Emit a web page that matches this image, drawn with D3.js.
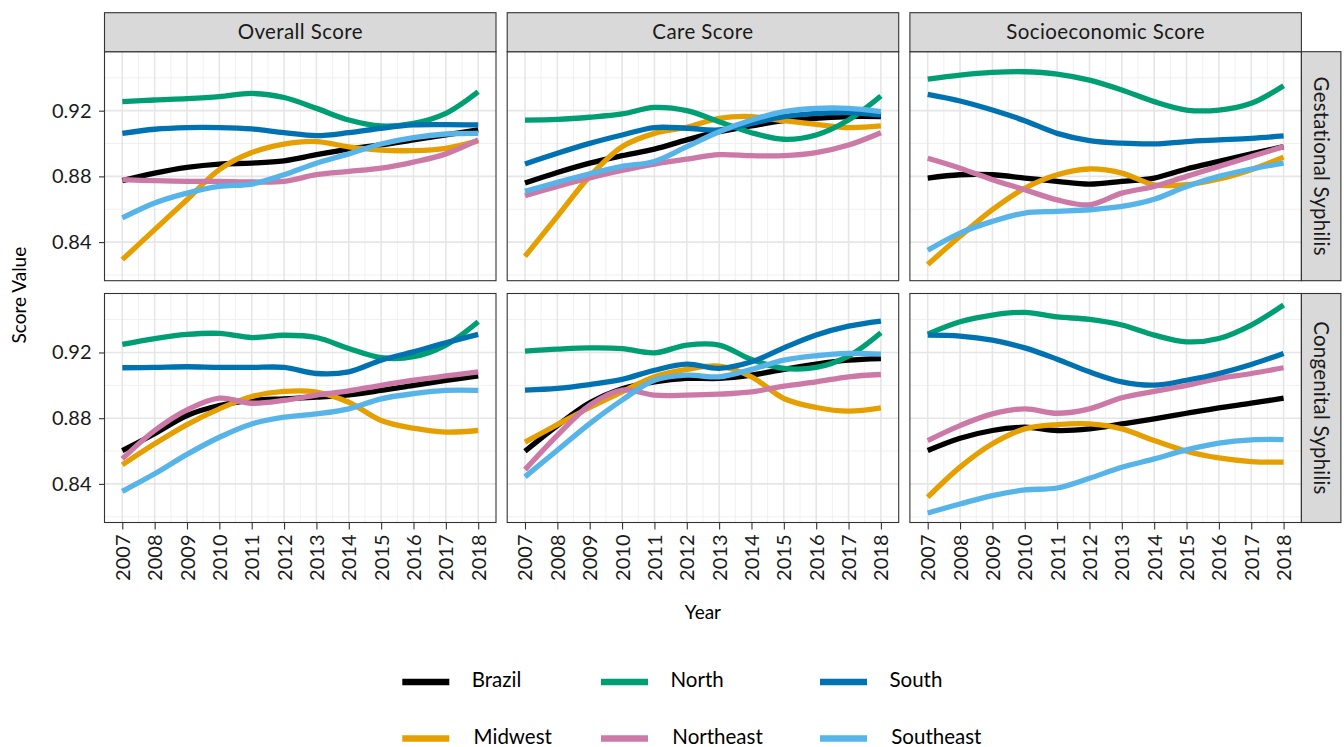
<!DOCTYPE html>
<html>
<head>
<meta charset="utf-8">
<script src="https://cdn.jsdelivr.net/npm/d3@7"></script>
<style>
  html, body { margin: 0; padding: 0; background: #ffffff; }
  svg { display: block; }
</style>
</head>
<body>
<div id="chart"></div>
<script>
// Years on the x axis
const years = [2007, 2008, 2009, 2010, 2011, 2012, 2013, 2014, 2015, 2016, 2017, 2018];

// Regions (drawing order) and their colours
const regions = ["Brazil", "Midwest", "North", "Northeast", "South", "Southeast"];
const regionColors = ["#000000", "#E69F00", "#009E73", "#CC79A7", "#0072B2", "#56B4E9"];

// Facet labels
const scoreTypes = ["Overall Score", "Care Score", "Socioeconomic Score"];
const outcomes = ["Gestational Syphilis", "Congenital Syphilis"];

// y ticks
const yTicks = [0.84, 0.88, 0.92];
const yMinorTicks = [0.82, 0.86, 0.90, 0.94];

// Scores per region (rows follow `regions`)
const gestationalOverall = [
  [0.8774, 0.8820, 0.8855, 0.8875, 0.8881, 0.8895, 0.8932, 0.8966, 0.8992, 0.9022, 0.9052, 0.9083],
  [0.8293, 0.8476, 0.8658, 0.8841, 0.8945, 0.8997, 0.9012, 0.8980, 0.8960, 0.8957, 0.8971, 0.9016],
  [0.9255, 0.9265, 0.9273, 0.9285, 0.9305, 0.9280, 0.9214, 0.9143, 0.9107, 0.9123, 0.9184, 0.9315],
  [0.8780, 0.8774, 0.8770, 0.8770, 0.8766, 0.8770, 0.8810, 0.8830, 0.8850, 0.8887, 0.8937, 0.9022],
  [0.9062, 0.9087, 0.9097, 0.9097, 0.9089, 0.9066, 0.9048, 0.9066, 0.9093, 0.9113, 0.9115, 0.9113],
  [0.8547, 0.8638, 0.8698, 0.8739, 0.8753, 0.8810, 0.8880, 0.8937, 0.8997, 0.9036, 0.9058, 0.9062]
];
const gestationalCare = [
  [0.8760, 0.8824, 0.8881, 0.8926, 0.8966, 0.9022, 0.9072, 0.9107, 0.9139, 0.9153, 0.9164, 0.9164],
  [0.8313, 0.8557, 0.8800, 0.8981, 0.9062, 0.9099, 0.9153, 0.9164, 0.9139, 0.9117, 0.9097, 0.9107],
  [0.9143, 0.9147, 0.9160, 0.9180, 0.9220, 0.9200, 0.9133, 0.9066, 0.9026, 0.9052, 0.9143, 0.9289],
  [0.8683, 0.8739, 0.8790, 0.8836, 0.8875, 0.8905, 0.8932, 0.8926, 0.8926, 0.8945, 0.8991, 0.9066],
  [0.8876, 0.8941, 0.9001, 0.9052, 0.9097, 0.9093, 0.9083, 0.9123, 0.9164, 0.9184, 0.9188, 0.9174],
  [0.8709, 0.8764, 0.8816, 0.8861, 0.8891, 0.8981, 0.9072, 0.9143, 0.9194, 0.9214, 0.9214, 0.9194]
];
const gestationalSocio = [
  [0.8790, 0.8810, 0.8810, 0.8790, 0.8770, 0.8753, 0.8770, 0.8790, 0.8845, 0.8891, 0.8937, 0.8981],
  [0.8263, 0.8435, 0.8597, 0.8728, 0.8810, 0.8845, 0.8820, 0.8749, 0.8749, 0.8784, 0.8841, 0.8917],
  [0.9392, 0.9417, 0.9433, 0.9437, 0.9423, 0.9386, 0.9326, 0.9255, 0.9204, 0.9204, 0.9245, 0.9352],
  [0.8910, 0.8850, 0.8780, 0.8719, 0.8657, 0.8627, 0.8698, 0.8739, 0.8800, 0.8861, 0.8921, 0.8981],
  [0.9299, 0.9259, 0.9204, 0.9139, 0.9062, 0.9018, 0.9002, 0.8998, 0.9012, 0.9022, 0.9032, 0.9046],
  [0.8350, 0.8455, 0.8526, 0.8577, 0.8587, 0.8597, 0.8617, 0.8661, 0.8739, 0.8800, 0.8845, 0.8881]
];
const congenitalOverall = [
  [0.8603, 0.8705, 0.8816, 0.8877, 0.8908, 0.8918, 0.8928, 0.8942, 0.8969, 0.9000, 0.9030, 0.9057],
  [0.8516, 0.8644, 0.8761, 0.8857, 0.8932, 0.8963, 0.8959, 0.8897, 0.8786, 0.8739, 0.8715, 0.8725],
  [0.9249, 0.9285, 0.9310, 0.9316, 0.9291, 0.9305, 0.9291, 0.9224, 0.9168, 0.9174, 0.9245, 0.9387],
  [0.8552, 0.8725, 0.8851, 0.8922, 0.8891, 0.8908, 0.8940, 0.8966, 0.9000, 0.9031, 0.9057, 0.9082],
  [0.9107, 0.9109, 0.9113, 0.9109, 0.9109, 0.9109, 0.9072, 0.9082, 0.9153, 0.9204, 0.9259, 0.9310],
  [0.8355, 0.8462, 0.8580, 0.8684, 0.8765, 0.8806, 0.8826, 0.8857, 0.8918, 0.8949, 0.8969, 0.8969]
];
const congenitalCare = [
  [0.8599, 0.8755, 0.8893, 0.8979, 0.9021, 0.9042, 0.9042, 0.9062, 0.9097, 0.9129, 0.9153, 0.9163],
  [0.8654, 0.8761, 0.8865, 0.8960, 0.9052, 0.9097, 0.9117, 0.9052, 0.8920, 0.8865, 0.8843, 0.8863],
  [0.9208, 0.9220, 0.9228, 0.9224, 0.9198, 0.9245, 0.9245, 0.9157, 0.9103, 0.9109, 0.9178, 0.9320],
  [0.8487, 0.8696, 0.8879, 0.8971, 0.8940, 0.8940, 0.8946, 0.8960, 0.8995, 0.9021, 0.9052, 0.9066],
  [0.8971, 0.8981, 0.9005, 0.9036, 0.9092, 0.9129, 0.9103, 0.9143, 0.9228, 0.9306, 0.9360, 0.9391],
  [0.8443, 0.8605, 0.8767, 0.8910, 0.9031, 0.9062, 0.9052, 0.9097, 0.9153, 0.9180, 0.9194, 0.9190]
];
const congenitalSocio = [
  [0.8603, 0.8678, 0.8725, 0.8745, 0.8725, 0.8735, 0.8765, 0.8796, 0.8830, 0.8863, 0.8891, 0.8922],
  [0.8319, 0.8502, 0.8644, 0.8735, 0.8761, 0.8765, 0.8735, 0.8664, 0.8599, 0.8558, 0.8536, 0.8532],
  [0.9312, 0.9387, 0.9428, 0.9444, 0.9417, 0.9401, 0.9367, 0.9306, 0.9265, 0.9285, 0.9367, 0.9489],
  [0.8664, 0.8755, 0.8826, 0.8857, 0.8830, 0.8857, 0.8924, 0.8963, 0.8999, 0.9042, 0.9072, 0.9107],
  [0.9306, 0.9300, 0.9275, 0.9228, 0.9159, 0.9082, 0.9021, 0.9001, 0.9031, 0.9072, 0.9127, 0.9194],
  [0.8223, 0.8278, 0.8329, 0.8363, 0.8375, 0.8434, 0.8501, 0.8552, 0.8607, 0.8648, 0.8668, 0.8670]
];

const panelData = [
  [gestationalOverall, gestationalCare, gestationalSocio],
  [congenitalOverall, congenitalCare, congenitalSocio]
];

// ---- layout ----
const W = 1344, H = 747;
const panelLeft = 104.5, panelW = 391.5, panelGap = 11.2;
const stripTop = 12.7, stripH = 39;
const rowTops = [51.7, 293.5], panelH = 229;
const rightStripW = 39.5;

const textFont = "Lato, 'Open Sans', sans-serif";

const svg = d3.select("#chart").append("svg")
  .attr("width", W).attr("height", H);

const x = d3.scaleLinear().domain([2007 - 0.55, 2018 + 0.55]).range([0, panelW]);
const y = d3.scaleLinear().domain([0.8165, 0.9559]).range([panelH, 0]);

const line = d3.line()
  .x((d, i) => x(years[i]))
  .y(d => y(d))
  .curve(d3.curveCatmullRom.alpha(0.5));

const xMinor = d3.range(2007.5, 2018, 1);

for (let r = 0; r < 2; r++) {
  for (let c = 0; c < 3; c++) {
    const px = panelLeft + c * (panelW + panelGap);
    const py = rowTops[r];
    const g = svg.append("g").attr("transform", `translate(${px},${py})`);

    g.append("rect").attr("width", panelW).attr("height", panelH).attr("fill", "#ffffff");

    // minor grid
    g.selectAll(".ymin").data(yMinorTicks).join("line")
      .attr("x1", 0).attr("x2", panelW)
      .attr("y1", d => y(d)).attr("y2", d => y(d))
      .attr("stroke", "#f0f0f0").attr("stroke-width", 1);
    g.selectAll(".xmin").data(xMinor).join("line")
      .attr("y1", 0).attr("y2", panelH)
      .attr("x1", d => x(d)).attr("x2", d => x(d))
      .attr("stroke", "#f0f0f0").attr("stroke-width", 1);
    // major grid
    g.selectAll(".ymaj").data(yTicks).join("line")
      .attr("x1", 0).attr("x2", panelW)
      .attr("y1", d => y(d)).attr("y2", d => y(d))
      .attr("stroke", "#e6e6e6").attr("stroke-width", 1.6);
    g.selectAll(".xmaj").data(years).join("line")
      .attr("y1", 0).attr("y2", panelH)
      .attr("x1", d => x(d)).attr("x2", d => x(d))
      .attr("stroke", "#e6e6e6").attr("stroke-width", 1.6);

    // series
    const rows = panelData[r][c];
    rows.forEach((vals, k) => {
      g.append("path")
        .datum(vals)
        .attr("d", line)
        .attr("fill", "none")
        .attr("stroke", regionColors[k])
        .attr("stroke-width", 5.3)
        .attr("stroke-linecap", "butt")
        .attr("stroke-linejoin", "round");
    });

    // border
    g.append("rect").attr("width", panelW).attr("height", panelH)
      .attr("fill", "none").attr("stroke", "#333333").attr("stroke-width", 1.1);

    // top strip
    if (r === 0) {
      const s = svg.append("g").attr("transform", `translate(${px},${stripTop})`);
      s.append("rect").attr("width", panelW).attr("height", stripH)
        .attr("fill", "#d9d9d9").attr("stroke", "#333333").attr("stroke-width", 1.1);
      s.append("text").attr("x", panelW / 2).attr("y", stripH / 2 + 7)
        .attr("text-anchor", "middle").attr("font-family", textFont)
        .attr("font-size", 20.5).attr("letter-spacing", 0.4)
        .attr("fill", "#1a1a1a").text(scoreTypes[c]);
    }

    // right strip
    if (c === 2) {
      const s = svg.append("g").attr("transform", `translate(${px + panelW},${py})`);
      s.append("rect").attr("width", rightStripW).attr("height", panelH)
        .attr("fill", "#d9d9d9").attr("stroke", "#333333").attr("stroke-width", 1.1);
      s.append("text")
        .attr("transform", `translate(${rightStripW / 2 - 7},${panelH / 2}) rotate(90)`)
        .attr("text-anchor", "middle").attr("font-family", textFont)
        .attr("font-size", 20.5).attr("letter-spacing", 0.2)
        .attr("fill", "#1a1a1a").text(outcomes[r]);
    }

    // y axis on the first column
    if (c === 0) {
      const ay = g.append("g").call(d3.axisLeft(y).tickValues(yTicks).tickSize(5.5).tickPadding(7.5).tickFormat(d3.format(".2f")));
      ay.select(".domain").remove();
      ay.selectAll(".tick line").attr("stroke", "#333333").attr("stroke-width", 1.1);
      ay.selectAll(".tick text").attr("font-family", textFont).attr("font-size", 20).attr("fill", "#1a1a1a");
    }

    // x axis on the bottom row
    if (r === 1) {
      const ax = g.append("g").attr("transform", `translate(0,${panelH})`)
        .call(d3.axisBottom(x).tickValues(years).tickSize(7).tickFormat(d3.format("d")));
      ax.select(".domain").remove();
      ax.selectAll(".tick line").attr("stroke", "#333333").attr("stroke-width", 1.1);
      ax.selectAll(".tick text")
        .attr("font-family", textFont).attr("font-size", 20).attr("fill", "#1a1a1a")
        .attr("transform", "rotate(-90)")
        .attr("x", -12).attr("y", 0).attr("dy", "0.35em")
        .attr("text-anchor", "end");
    }
  }
}

// axis titles
svg.append("text")
  .attr("transform", `translate(26,${(rowTops[0] + rowTops[1] + panelH) / 2 + 8}) rotate(-90)`)
  .attr("text-anchor", "middle").attr("font-family", textFont)
  .attr("font-size", 19).attr("fill", "#000000").text("Score Value");

svg.append("text")
  .attr("x", panelLeft + (3 * panelW + 2 * panelGap) / 2).attr("y", 619)
  .attr("text-anchor", "middle").attr("font-family", textFont)
  .attr("font-size", 19).attr("fill", "#000000").text("Year");

// legend: 3 columns, 2 rows (column-major)
const legendCols = [402.3, 601, 820];
const legendRows = [682, 738.5];
const legendTextOffset = [69.5, 71.3];
regions.forEach((name, k) => {
  const col = Math.floor(k / 2), row = k % 2;
  const lx = legendCols[col], ly = legendRows[row];
  svg.append("line")
    .attr("x1", lx).attr("x2", lx + 47).attr("y1", ly).attr("y2", ly)
    .attr("stroke", regionColors[k]).attr("stroke-width", 6.5);
  svg.append("text")
    .attr("x", lx + legendTextOffset[row]).attr("y", ly + 5)
    .attr("font-family", textFont).attr("font-size", 20.5).attr("fill", "#000000")
    .text(name);
});
</script>
</body>
</html>
